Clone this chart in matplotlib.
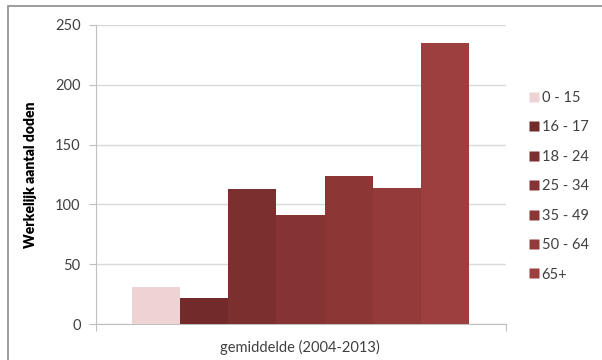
import matplotlib.pyplot as plt
from matplotlib.patches import Rectangle
from matplotlib.lines import Line2D
import numpy as np

plt.rcParams['font.family'] = ['Lato', 'DejaVu Sans']

groups = ['0 - 15', '16 - 17', '18 - 24', '25 - 34', '35 - 49', '50 - 64', '65+']
doden = [31, 22, 113, 91, 124, 114, 235]
colors = ['#EDD3D3', '#722A2A', '#7C2F2F', '#853333', '#8C3636', '#943A3A', '#9D3F3F']

fig = plt.figure(figsize=(6.02, 3.6), dpi=100)
ax = fig.add_axes([96 / 602, 1 - 324 / 360, 410 / 602, 299 / 360])

x = np.arange(len(groups))
ax.bar(x, doden, width=1.0, color=colors, edgecolor='none', zorder=3)

ax.set_xlim(-0.5 - 0.75, len(groups) - 0.5 + 0.77)
ax.set_ylim(0, 250)
ax.set_yticks(range(0, 251, 50))
ax.grid(axis='y', color='#D9D9D9', linewidth=1, zorder=0)

for side in ['top', 'right']:
    ax.spines[side].set_visible(False)
ax.spines['left'].set_color('#BFBFBF')
ax.spines['bottom'].set_color('#BFBFBF')
ax.tick_params(axis='y', length=5, color='#BFBFBF', labelsize=10.5, labelcolor='#404040', pad=6)
ax.set_xticks([ax.get_xlim()[0], ax.get_xlim()[1]])
ax.set_xticklabels([])
ax.tick_params(axis='x', length=5, color='#BFBFBF', direction='out')

ax.set_ylabel('Werkelijk aantal doden', fontsize=10, fontweight='heavy', color='#000000', labelpad=13)
fig.text(300 / 602, 1 - 347 / 360, 'gemiddelde (2004-2013)', fontsize=10.5, color='#404040',
         ha='center', va='center')

handles = [Line2D([0], [0], marker='s', linestyle='none', markersize=7,
                  markerfacecolor=c, markeredgecolor='none') for c in colors]
fig.legend(handles, groups, loc='upper left', bbox_to_anchor=(522 / 602, 1 - 85 / 360),
           frameon=False, fontsize=10.5, labelcolor='#404040', handlelength=0.8,
           handletextpad=0.15, labelspacing=1.06, borderaxespad=0)

# outer frame of the chart area
fig.patches.append(Rectangle((8 / 602, -0.1), 1.2, 1 - 6 / 360 + 0.1, transform=fig.transFigure,
                             fill=False, edgecolor='#8C8C8C', linewidth=1.2))

fig.savefig('out.png', dpi=100)
